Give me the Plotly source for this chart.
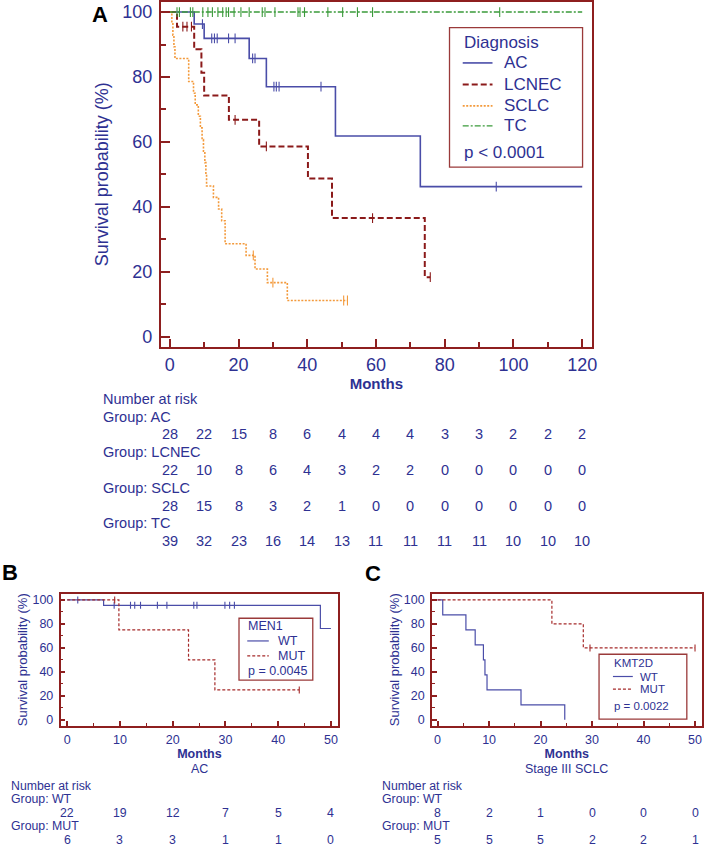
import plotly.graph_objects as go

W, H = 709, 848
NAVY = "#2E3192"
FRAME = "#8E1F1F"
FONT = "Liberation Sans, Arial, Helvetica, sans-serif"

# ---------------- Panel A data (months, survival %) ----------------
ac_time = [0, 7.1, 10.0, 23.1, 28.1, 48.2, 72.9, 120]
ac_surv = [100, 96.3, 91.9, 85.7, 77.0, 61.8, 46.2, 46.2]
ac_cens = [9.5, 12.2, 13.0, 13.8, 17.1, 19.0, 24.1, 24.8, 30.3, 31.0, 31.8, 44.0, 95.0]

lcnec_time = [0, 2.1, 7.1, 9.2, 10.0, 17.2, 26.0, 40.2, 47.2, 74.2, 75.8]
lcnec_surv = [100, 95.5, 88.5, 81.3, 74.3, 66.8, 58.6, 48.7, 36.5, 18.3, 18.3]
lcnec_cens = [3.8, 5.0, 6.3, 19.0, 28.1, 59.0, 75.8]

sclc_time = [0, 0.6, 0.9, 1.2, 1.5, 5.5, 6.9, 7.4, 8.3, 8.9, 9.4, 9.8, 10.2, 10.5,
             10.7, 12.7, 14.2, 15.1, 16.1, 22.2, 24.8, 28.4, 34.2, 51.7]
sclc_surv = [100, 96.4, 92.9, 89.3, 85.7, 78.6, 75.0, 71.4, 67.9, 64.3, 60.7, 57.1, 53.6, 50.0,
             46.4, 42.9, 39.3, 35.7, 28.6, 25.0, 20.8, 16.6, 11.1, 11.1]
sclc_cens = [24.3, 30.0, 50.6, 51.7]

tc_time = [0, 120]
tc_surv = [100, 100]
tc_cens = [2.1, 2.8, 6.0, 6.7, 9.6, 11.1, 12.4, 14.0, 15.4, 16.4, 17.1, 18.7, 20.7, 23.1,
           26.9, 27.7, 30.6, 37.3, 37.9, 39.2, 46.0, 50.3, 54.6, 59.0, 96.0]

risk_a_times = [0, 10, 20, 30, 40, 50, 60, 70, 80, 90, 100, 110, 120]
risk_a_groups = ["AC", "LCNEC", "SCLC", "TC"]
risk_a_ac = [28, 22, 15, 8, 6, 4, 4, 4, 3, 3, 2, 2, 2]
risk_a_lcnec = [22, 10, 8, 6, 4, 3, 2, 2, 0, 0, 0, 0, 0]
risk_a_sclc = [28, 15, 8, 3, 2, 1, 0, 0, 0, 0, 0, 0, 0]
risk_a_tc = [39, 32, 23, 16, 14, 13, 11, 11, 11, 11, 10, 10, 10]

# ---------------- Panel B data (AC, MEN1) ----------------
men1_wt_time = [0, 6.9, 48.0, 50.0]
men1_wt_surv = [100, 95.5, 76.2, 76.2]
men1_wt_cens = [2.0, 8.9, 12.0, 12.8, 13.9, 17.1, 18.9, 24.0, 24.6, 29.9, 30.8, 31.7]
men1_mut_time = [0, 9.8, 23.0, 28.0, 44.0]
men1_mut_surv = [100, 75, 50, 25, 25]
men1_mut_cens = [9.0, 44.0]
risk_b_times = [0, 10, 20, 30, 40, 50]
risk_b_wt = [22, 19, 12, 7, 5, 4]
risk_b_mut = [6, 3, 3, 1, 1, 0]

# ---------------- Panel C data (Stage III SCLC, KMT2D) ----------------
kmt2d_wt_time = [0, 1.0, 5.5, 7.3, 8.9, 9.2, 9.6, 16.2, 24.7]
kmt2d_wt_surv = [100, 87.5, 75, 62.5, 50, 37.5, 25, 12.5, 0]
kmt2d_mut_time = [0, 22.2, 28.3, 50.0]
kmt2d_mut_surv = [100, 80, 60, 60]
kmt2d_mut_cens = [29.6, 50.0]
risk_c_times = [0, 10, 20, 30, 40, 50]
risk_c_wt = [8, 2, 1, 0, 0, 0]
risk_c_mut = [5, 5, 5, 2, 2, 1]


def px(x):
    return x / W


def py(y):
    return 1 - y / H


def step_at(times, surv, t):
    v = surv[0]
    for ti, si in zip(times, surv):
        if ti <= t:
            v = si
    return v


fig = go.Figure()


def add_curve(times, surv, cens, color, width, dash, name, xa, ya, msize):
    fig.add_trace(go.Scatter(x=times, y=surv, mode="lines", name=name,
                             line=dict(shape="hv", color=color, width=width, dash=dash),
                             xaxis=xa, yaxis=ya, showlegend=False, hoverinfo="skip"))
    if cens:
        fig.add_trace(go.Scatter(x=cens, y=[step_at(times, surv, c) for c in cens],
                                 mode="markers", name=name + " censored",
                                 marker=dict(symbol="line-ns-open", size=msize, color=color,
                                             line=dict(color=color, width=1.1)),
                                 xaxis=xa, yaxis=ya, showlegend=False, hoverinfo="skip"))


C_AC = "#4A4DA8"
C_LC = "#8B1A1A"
C_SC = "#F39A3C"
C_TC = "#3A9A3A"
C_WT = "#4A4DA8"
C_MUT = "#A52A2A"

add_curve(ac_time, ac_surv, ac_cens, C_AC, 1.6, "solid", "AC", "x", "y", 7)
add_curve(lcnec_time, lcnec_surv, lcnec_cens, C_LC, 2.0, "6px,3px", "LCNEC", "x", "y", 7)
add_curve(sclc_time, sclc_surv, sclc_cens, C_SC, 1.6, "2px,1.5px", "SCLC", "x", "y", 7)
add_curve(tc_time, tc_surv, tc_cens, C_TC, 1.4, "6px,2px,2px,2px", "TC", "x", "y", 7)

add_curve(men1_wt_time, men1_wt_surv, men1_wt_cens, C_WT, 1.2, "solid", "WT", "x2", "y2", 5)
add_curve(men1_mut_time, men1_mut_surv, men1_mut_cens, C_MUT, 1.2, "3px,2px", "MUT", "x2", "y2", 5)

add_curve(kmt2d_wt_time, kmt2d_wt_surv, [], C_WT, 1.2, "solid", "WT", "x3", "y3", 5)
add_curve(kmt2d_mut_time, kmt2d_mut_surv, kmt2d_mut_cens, C_MUT, 1.2, "3px,2px", "MUT", "x3", "y3", 5)


def xaxis_cfg(dom, rng, dtick, mdtick, fs, tl, mtl, tw, title_fs, standoff):
    return dict(domain=dom, range=rng, tick0=0, dtick=dtick, ticks="inside", ticklen=tl,
                tickwidth=tw, tickcolor=FRAME, showline=True, linecolor=FRAME, linewidth=tw,
                mirror=True, showgrid=False, zeroline=False,
                tickfont=dict(family=FONT, size=fs, color=NAVY), ticklabelstandoff=1,
                minor=dict(dtick=mdtick, tick0=0, ticks="inside", ticklen=mtl, tickwidth=tw * 0.75,
                           tickcolor=FRAME, showgrid=False),
                title=dict(text="<b>Months</b>", font=dict(family=FONT, size=title_fs, color=NAVY),
                           standoff=standoff))


def yaxis_cfg(dom, rng, fs, tl, mtl, tw, title_fs, standoff, anchor):
    return dict(domain=dom, range=rng, tick0=0, dtick=20, ticks="inside", ticklen=tl,
                tickwidth=tw, tickcolor=FRAME, showline=True, linecolor=FRAME, linewidth=tw,
                mirror=True, showgrid=False, zeroline=False, anchor=anchor,
                tickfont=dict(family=FONT, size=fs, color=NAVY), ticklabelstandoff=3,
                minor=dict(dtick=10, tick0=0, ticks="inside", ticklen=mtl, tickwidth=tw * 0.75,
                           tickcolor=FRAME, showgrid=False),
                title=dict(text="Survival probability (%)", font=dict(family=FONT, size=title_fs, color=NAVY),
                           standoff=standoff))


fig.update_layout(
    width=W, height=H, margin=dict(l=0, r=0, t=0, b=0),
    paper_bgcolor="white", plot_bgcolor="white", showlegend=False,
    font=dict(family=FONT, color=NAVY),
    xaxis=dict(**xaxis_cfg([px(162), px(596)], [-2.6, 122.8], 20, 10, 18, 8, 5, 2, 15, 2), anchor="y"),
    yaxis=yaxis_cfg([py(347), py(2)], [-3.1, 103.1], 18, 9, 5, 2, 18, 9, "x"),
    xaxis2=dict(**xaxis_cfg([px(61), px(340.7)], [-1.26, 51.4], 10, 5, 12.5, 5, 3, 1.5, 12.5, 2), anchor="y2"),
    yaxis2=yaxis_cfg([py(726.7), py(594.3)], [-5.0, 105.3], 12.5, 5, 3, 1.5, 13, 2, "x2"),
    xaxis3=dict(**xaxis_cfg([px(435), px(706.7)], [-1.1, 51.3], 10, 5, 12.5, 5, 3, 1.5, 12.5, 2), anchor="y3"),
    yaxis3=yaxis_cfg([py(726.7), py(594.3)], [-5.0, 105.3], 12.5, 5, 3, 1.5, 13, 1, "x3"),
)

ann = []
shapes = []


def text(x, y, s, size, color=NAVY, xanchor="left", bold=False, xref="paper"):
    ann.append(dict(x=x, y=py(y), xref=xref, yref="paper", text=("<b>%s</b>" % s) if bold else s,
                    showarrow=False, xanchor=xanchor, yanchor="middle", borderpad=0,
                    font=dict(family=FONT, size=size, color=color)))


# panel letters
text(px(101), 14.5, "A", 22, color="black", xanchor="center", bold=True)
text(px(10), 573.5, "B", 22, color="black", xanchor="center", bold=True)
text(px(375.5), 574.5, "C", 22, color="black", xanchor="center", bold=True)

# subtitles for B and C
text(px(201), 770, "AC", 12.5, xanchor="center")
text(px(571), 770, "Stage III SCLC", 12.5, xanchor="center")


# legends (boxed keys)
def legend_box(x0, y0, x1, y1, title, entries, p_text, lx, sample_w, tx, ys, title_y, p_y, fs):
    shapes.append(dict(type="rect", xref="paper", yref="paper", x0=px(x0), x1=px(x1),
                       y0=py(y1), y1=py(y0), line=dict(color="#9A3A3A", width=1.3),
                       fillcolor="rgba(255,255,255,0)"))
    text(px(lx), title_y, title, fs)
    for (name, color, width, dash), yy in zip(entries, ys):
        shapes.append(dict(type="line", xref="paper", yref="paper", x0=px(lx), x1=px(lx + sample_w),
                           y0=py(yy), y1=py(yy), line=dict(color=color, width=width, dash=dash)))
        text(px(tx), yy, name, fs)
    text(px(lx), p_y, p_text, fs)


legend_box(452.7, 27.7, 586.7, 167.3, "Diagnosis",
           [("AC", C_AC, 1.6, "solid"), ("LCNEC", C_LC, 2.0, "6px,3px"),
            ("SCLC", C_SC, 1.6, "2px,1.5px"), ("TC", C_TC, 1.4, "6px,2px,2px,2px")],
           "p &lt; 0.0001", 466, 30, 507, [63, 84.5, 106, 126], 43, 152.5, 17)
legend_box(240.7, 619, 315, 681, "MEN1",
           [("WT", C_WT, 1.2, "solid"), ("MUT", C_MUT, 1.2, "3px,2px")],
           "p = 0.0045", 249, 21.7, 279, [641.7, 656.7], 626.7, 671.7, 12.5)
legend_box(603.3, 655, 691.7, 720, "KMT2D",
           [("WT", C_WT, 1.2, "solid"), ("MUT", C_MUT, 1.2, "3px,2px")],
           "p = 0.0022", 617.3, 20, 644, [677.3, 690], 664, 706.7, 11.5)


# number-at-risk tables
def risk_table(label_x, xref, times, groups, rows, y_start, dy_label, fs):
    text(px(label_x), y_start, "Number at risk", fs)
    y = y_start
    for g, vals in zip(groups, rows):
        y += dy_label
        text(px(label_x), y, "Group: " + g, fs)
        y += dy_label
        for t, v in zip(times, vals):
            ann.append(dict(x=t, y=py(y), xref=xref, yref="paper", text=str(v), showarrow=False,
                            xanchor="center", yanchor="middle", borderpad=0,
                            font=dict(family=FONT, size=fs, color=NAVY)))


risk_table(102.7, "x", risk_a_times, risk_a_groups,
           [risk_a_ac, risk_a_lcnec, risk_a_sclc, risk_a_tc], 399.3, 17.8, 14.5)
risk_table(10, "x2", risk_b_times, ["WT", "MUT"], [risk_b_wt, risk_b_mut], 786.7, 13.5, 12.3)
risk_table(384, "x3", risk_c_times, ["WT", "MUT"], [risk_c_wt, risk_c_mut], 786.7, 13.5, 12.3)

fig.update_layout(annotations=ann, shapes=shapes)
fig.write_html("out.html", config={"displayModeBar": False},
               post_script="document.body.style.margin='0px';document.body.style.padding='0px';"
                           "document.body.style.overflow='hidden';")
